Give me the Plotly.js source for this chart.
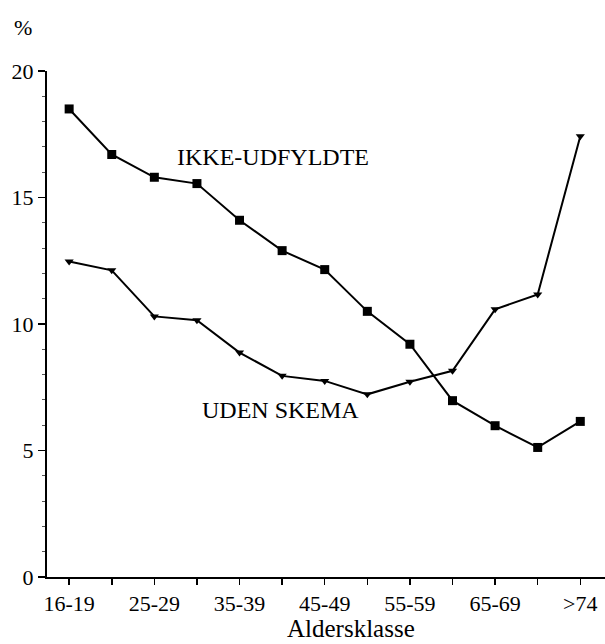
<!DOCTYPE html>
<html>
<head>
<meta charset="utf-8">
<script src="https://cdn.plot.ly/plotly-3.0.1.min.js"></script>
<style>html,body{margin:0;padding:0;background:#fff;}#chart{width:605px;height:644px;}</style>
</head>
<body>
<div id="chart"></div>
<script>
const categories = ["16-19","20-24","25-29","30-34","35-39","40-44","45-49","50-54","55-59","60-64","65-69","70-74",">74"];
const tickLabels = ["16-19","","25-29","","35-39","","45-49","","55-59","","65-69","",">74"];
const ikkeUdfyldte = [18.5, 16.7, 15.8, 15.55, 14.1, 12.9, 12.15, 10.5, 9.2, 6.97, 5.98, 5.12, 6.15];
const udenSkema = [12.47, 12.12, 10.3, 10.15, 8.87, 7.95, 7.75, 7.22, 7.72, 8.15, 10.58, 11.17, 17.42];
const xTitle = "Aldersklasse";
const idx = categories.map((c, i) => i);
const font = "Liberation Serif, DejaVu Serif, serif";

const traces = [
  {x: idx, y: ikkeUdfyldte, text: categories, mode: "lines+markers", type: "scatter",
   line: {color: "#000", width: 2}, marker: {symbol: "square", size: 9, color: "#000"}, hoverinfo: "text+y"},
  {x: idx, y: udenSkema, text: categories, mode: "lines+markers", type: "scatter",
   line: {color: "#000", width: 2}, marker: {symbol: "triangle-down", size: 8, color: "#000"}, hoverinfo: "text+y"}
];

const layout = {
  width: 605, height: 644,
  margin: {l: 47, r: 0, t: 71, b: 67},
  paper_bgcolor: "#fff", plot_bgcolor: "#fff",
  showlegend: false,
  font: {family: font, color: "#000", size: 22},
  xaxis: {
    range: [-0.52, 12.58], tickvals: idx, ticktext: tickLabels,
    showgrid: false, zeroline: false, showline: true, linecolor: "#000", linewidth: 2,
    ticks: "outside", ticklen: 6, tickwidth: 1.5, tickcolor: "#000",
    tickfont: {family: font, size: 22}
  },
  yaxis: {
    range: [0, 20], tickvals: [0, 5, 10, 15, 20],
    showgrid: false, zeroline: false, showline: true, linecolor: "#000", linewidth: 2,
    ticks: "outside", ticklen: 7, tickwidth: 1.5, tickcolor: "#000",
    tickfont: {family: font, size: 22},
    minor: {dtick: 1, ticks: "outside", ticklen: 3, tickwidth: 1, tickcolor: "#555", showgrid: false}
  },
  annotations: [
    {x: 2.49, y: 16.6, xref: "x", yref: "y", text: "IKKE-UDFYLDTE", showarrow: false,
     xanchor: "left", yanchor: "middle", font: {family: font, size: 24}},
    {x: 3.07, y: 6.6, xref: "x", yref: "y", text: "UDEN SKEMA", showarrow: false,
     xanchor: "left", yanchor: "middle", font: {family: font, size: 24}},
    {x: (23 - 47) / 558, y: (577 - 27) / 506, xref: "paper", yref: "paper", text: "%", showarrow: false,
     xanchor: "center", yanchor: "middle", font: {family: font, size: 22}},
    {x: (351 - 47) / 558, y: (577 - 643) / 506, xref: "paper", yref: "paper", text: xTitle, showarrow: false,
     xanchor: "center", yanchor: "bottom", borderpad: 0, font: {family: font, size: 25}}
  ]
};

Plotly.newPlot("chart", traces, layout, {displayModeBar: false, staticPlot: true});
</script>
</body>
</html>
